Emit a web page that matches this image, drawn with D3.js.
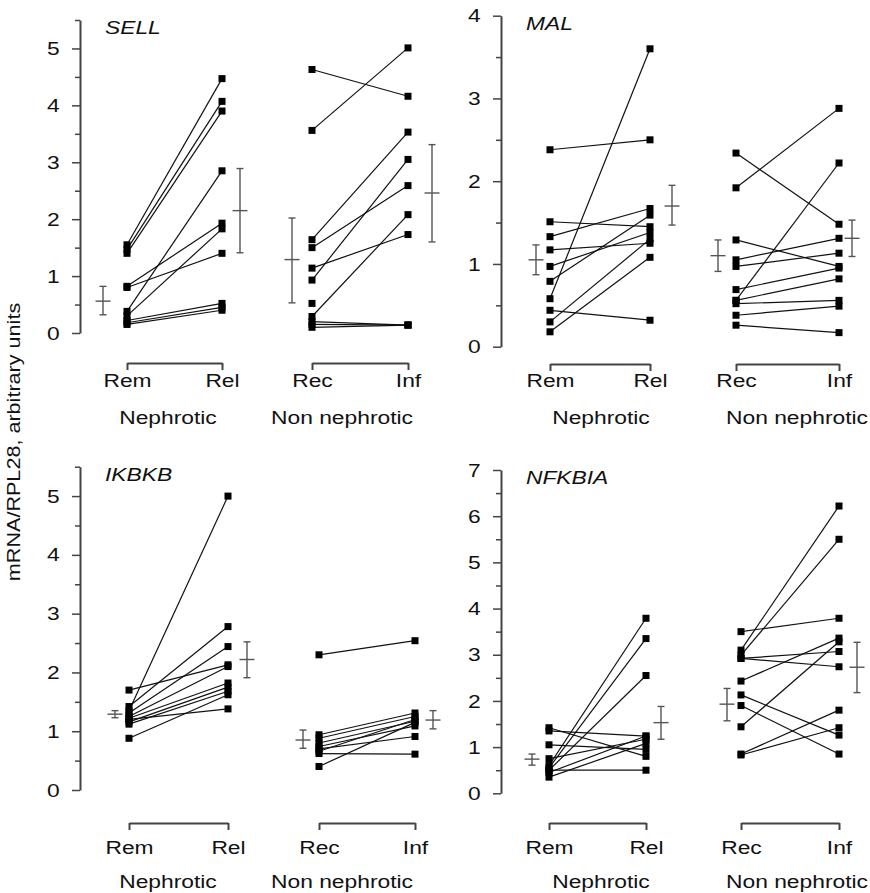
<!DOCTYPE html>
<html>
<head>
<meta charset="utf-8">
<script src="https://cdn.jsdelivr.net/npm/d3@7"></script>
<style>
  body { margin: 0; background: #fff; }
  svg text { font-family: "Liberation Sans", Arial, sans-serif; fill: #111; }
</style>
</head>
<body>
<div id="chart"></div>
<script>
// paired values, same index = same patient (null = no second sample)
const sellRem = [1.55, 1.47, 1.40, 0.82, 0.80, 0.38, 0.30, 0.22, 0.18, 0.15];
const sellRel = [4.47, 4.07, 3.90, 1.93, 1.40, 2.85, 1.83, 0.52, 0.45, 0.40];
const sellRec = [4.63, 3.56, 1.64, 1.50, 1.14, 0.93, 0.52, 0.29, 0.20, 0.15, 0.10];
const sellInf = [4.16, 5.01, 3.53, 2.59, 1.73, 3.05, null, 2.08, 0.14, 0.14, 0.14];

const malRem = [2.38, 1.51, 1.33, 1.17, 0.97, 0.58, 0.79, 0.44, 0.30, 0.18];
const malRel = [2.50, 1.45, 1.67, 1.25, 1.38, 3.60, 1.59, 0.32, 1.30, 1.08];
const malRec = [2.34, 1.92, 1.29, 1.05, 0.97, 0.69, 0.56, 0.56, 0.52, 0.38, 0.26];
const malInf = [1.48, 2.88, 0.97, 1.31, 1.13, 0.95, 2.22, 0.82, 0.56, 0.49, 0.17];

const ikbkbRem = [1.35, 1.70, 1.42, 1.31, 1.25, 1.22, 1.16, 1.12, 1.20, 0.88];
const ikbkbRel = [5.00, 2.13, 2.78, 2.44, 2.10, 1.82, 1.75, 1.68, 1.38, 1.62];
const ikbkbRec = [2.30, 0.94, 0.88, 0.80, 0.74, 0.70, 0.66, 0.62, 0.40];
const ikbkbInf = [2.54, 1.31, 1.25, 1.17, 1.09, 0.91, 1.20, 0.61, 1.15];

const nfkbiaRem = [0.60, 0.55, 0.50, 1.42, 1.35, 1.05, 0.75, 0.45, 0.50, 0.35];
const nfkbiaRel = [3.79, 3.35, 2.55, 0.80, 1.24, 0.95, 1.17, 1.24, 0.50, 1.08];
const nfkbiaRec = [3.10, 2.99, 3.50, 2.92, 2.92, 2.43, 1.44, 2.13, 1.90, 0.85, 0.83];
const nfkbiaInf = [6.22, 5.50, 3.79, 3.07, 2.74, 3.36, 3.28, 1.26, 0.85, 1.80, 1.42];

// mean, lower, upper for Rem, Rel, Rec, Inf
const sellErr = [[0.56, 0.32, 0.82], [2.15, 1.41, 2.89], [1.29, 0.53, 2.02], [2.46, 1.60, 3.31]];
const malErr = [[1.05, 0.87, 1.23], [1.70, 1.47, 1.95], [1.10, 0.91, 1.29], [1.31, 1.09, 1.53]];
const ikbkbErr = [[1.29, 1.23, 1.35], [2.22, 1.91, 2.52], [0.85, 0.71, 1.02], [1.19, 1.04, 1.35]];
const nfkbiaErr = [[0.74, 0.61, 0.85], [1.53, 1.17, 1.88], [1.93, 1.57, 2.27], [2.73, 2.18, 3.27]];

const genes = ["SELL", "MAL", "IKBKB", "NFKBIA"];
const groupNames = ["Nephrotic", "Non nephrotic"];
const timepoints = [["Rem", "Rel"], ["Rec", "Inf"]];
const yLabel = "mRNA/RPL28, arbitrary units";

const W = 870, H = 893;
const stretch = 1.2; // glyphs in the figure are a bit wide

const svg = d3.select("#chart").append("svg")
    .attr("width", W)
    .attr("height", H);

const panels = [
    {gene: genes[0], a: sellRem, b: sellRel, c: sellRec, d: sellInf, err: sellErr,
     max: 5.5, top: 20, bottom: 333, axisX: 80, xs: [127, 222, 312, 408],
     errX: [103, 240, 292, 432], bracketY: 363, pad: 4, groupY: 424, groupX: [168, 342]},
    {gene: genes[1], a: malRem, b: malRel, c: malRec, d: malInf, err: malErr,
     max: 4, top: 15.7, bottom: 346.7, axisX: 501, xs: [550, 650, 736, 839],
     errX: [536, 672, 718, 852], bracketY: 364, pad: 3, groupY: 424, groupX: [601, 797]},
    {gene: genes[2], a: ikbkbRem, b: ikbkbRel, c: ikbkbRec, d: ikbkbInf, err: ikbkbErr,
     max: 5.5, top: 466.7, bottom: 790, axisX: 80, xs: [129, 228, 319, 415],
     errX: [115, 247, 303, 433], bracketY: 823, pad: 11, groupY: 888, groupX: [168, 342]},
    {gene: genes[3], a: nfkbiaRem, b: nfkbiaRel, c: nfkbiaRec, d: nfkbiaInf, err: nfkbiaErr,
     max: 7, top: 470, bottom: 793.3, axisX: 501, xs: [549, 646, 741, 839],
     errX: [532, 661, 727, 857], bracketY: 823, pad: 11, groupY: 888, groupX: [601, 797]}
];

function drawPanel(p) {
    const g = svg.append("g");
    const y = d3.scaleLinear().domain([0, p.max]).range([p.bottom, p.top]);

    // y axis: labelled integers plus half-unit minor ticks
    const major = d3.range(0, Math.floor(p.max) + 1);
    const minor = d3.range(0.5, p.max + 0.01, 1);
    g.append("g")
        .attr("transform", `translate(${p.axisX},0)`)
        .call(d3.axisLeft(y).tickValues(minor).tickSize(5).tickSizeOuter(0).tickFormat(""))
        .call((a) => a.select(".domain").remove())
        .call((a) => a.selectAll("line").attr("stroke", "#444").attr("stroke-width", 1.5));
    g.append("g")
        .attr("transform", `translate(${p.axisX},0)`)
        .call(d3.axisLeft(y).tickValues(major).tickFormat(d3.format("d"))
            .tickSize(8).tickSizeOuter(0).tickPadding(9))
        .call((a) => a.select(".domain").attr("stroke", "#444").attr("stroke-width", 2))
        .call((a) => a.selectAll("line").attr("stroke", "#444").attr("stroke-width", 1.5))
        .call((a) => a.selectAll("text")
            .attr("font-size", 19)
            .attr("fill", "#111")
            .attr("transform", `scale(${stretch},1)`));

    // gene name
    g.append("text")
        .attr("transform", `translate(${p.axisX + 25},${p.top + 14}) scale(${stretch},1)`)
        .attr("font-size", 19)
        .attr("font-style", "italic")
        .text(p.gene);

    const pairs = [[p.a, p.b], [p.c, p.d]];
    pairs.forEach(([first, second], k) => {
        const x = d3.scalePoint()
            .domain(timepoints[k])
            .range([p.xs[2 * k], p.xs[2 * k + 1]]);

        // bracket with the two sample labels
        g.append("g")
            .attr("transform", `translate(0,${p.bracketY})`)
            .call(d3.axisBottom(x).tickSize(7).tickSizeOuter(0).tickPadding(p.pad))
            .call((a) => a.select(".domain").attr("stroke", "#444").attr("stroke-width", 2))
            .call((a) => a.selectAll("line").attr("stroke", "#444").attr("stroke-width", 2))
            .call((a) => a.selectAll("text")
                .attr("font-size", 19)
                .attr("fill", "#111")
                .attr("transform", `scale(${stretch},1)`));

        g.append("text")
            .attr("transform", `translate(${p.groupX[k]},${p.groupY}) scale(${stretch},1)`)
            .attr("text-anchor", "middle")
            .attr("font-size", 19)
            .text(groupNames[k]);

        const rows = first.map((v, i) => ({v0: v, v1: second[i]}));
        const [n0, n1] = timepoints[k];

        g.append("g").selectAll("line")
            .data(rows.filter((r) => r.v0 != null && r.v1 != null))
            .join("line")
                .attr("x1", x(n0)).attr("x2", x(n1))
                .attr("y1", (r) => y(r.v0)).attr("y2", (r) => y(r.v1))
                .attr("stroke", "#111")
                .attr("stroke-width", 1.2);

        const pts = [];
        rows.forEach((r) => {
            if (r.v0 != null) pts.push({cx: x(n0), v: r.v0});
            if (r.v1 != null) pts.push({cx: x(n1), v: r.v1});
        });
        const s = 7;
        g.append("g").selectAll("rect")
            .data(pts)
            .join("rect")
                .attr("x", (d) => d.cx - s / 2)
                .attr("y", (d) => y(d.v) - s / 2)
                .attr("width", s)
                .attr("height", s)
                .attr("fill", "#000");

        // mean +/- error bars
        [0, 1].forEach((j) => {
            const idx = 2 * k + j;
            const [m, lo, hi] = p.err[idx];
            const ex = p.errX[idx];
            const eg = g.append("g")
                .attr("stroke", "#555")
                .attr("stroke-width", 1.4);
            eg.append("line").attr("x1", ex).attr("x2", ex).attr("y1", y(lo)).attr("y2", y(hi));
            eg.append("line").attr("x1", ex - 3.5).attr("x2", ex + 3.5).attr("y1", y(lo)).attr("y2", y(lo));
            eg.append("line").attr("x1", ex - 3.5).attr("x2", ex + 3.5).attr("y1", y(hi)).attr("y2", y(hi));
            eg.append("line").attr("x1", ex - 7.5).attr("x2", ex + 7.5).attr("y1", y(m)).attr("y2", y(m));
        });
    });
}

panels.forEach(drawPanel);

svg.append("text")
    .attr("transform", `translate(20,442) rotate(-90) scale(1.2,1)`)
    .attr("text-anchor", "middle")
    .attr("font-size", 18)
    .text(yLabel);
</script>
</body>
</html>
